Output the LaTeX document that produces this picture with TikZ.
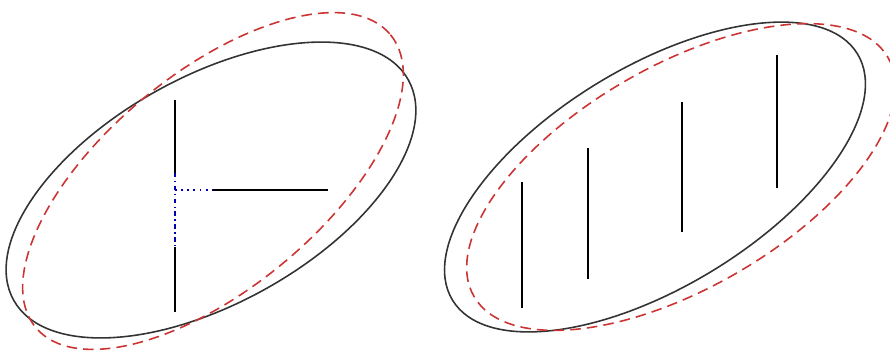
\documentclass[tikz,border=0pt]{standalone}
\usetikzlibrary{calc}

\begin{document}
\begin{tikzpicture}[x=0.02cm, y=-0.02cm,
  outline/.style={draw=black!80, line width=0.9pt},
  shifted/.style={draw=red!75!black!80, line width=0.9pt, dash pattern=on 6pt off 3.5pt},
  bar/.style={draw=black, line width=1.6pt},
  gap/.style={draw=blue!70!black, line width=1.1pt, dash pattern=on 2.5pt off 2pt on 0.8pt off 2pt}]
  \useasboundingbox (0,0) rectangle (890,353);

  % left: section with a T-shaped set of cracks
  \coordinate (cl) at (211,190);
  \coordinate (cr) at (213,181);
  \draw[outline, rotate around={29.2:(cl)}] (cl) ellipse [x radius=226, y radius=113];
  \draw[shifted, rotate around={39.5:(cr)}] (cr) ellipse [x radius=230, y radius=108];
  \coordinate (t1) at (175,100);
  \coordinate (t2) at (175,173);
  \coordinate (t3) at (175,247);
  \coordinate (t4) at (175,312);
  \coordinate (h1) at (175,190);
  \coordinate (h2) at (213,190);
  \coordinate (h3) at (328,190);
  \draw[bar] (t1) -- (t2);
  \draw[bar] (t3) -- (t4);
  \draw[bar] (h2) -- (h3);
  \draw[gap] (t2) -- (t3);
  \draw[gap, dash pattern=on 1pt off 2.5pt] (h1) -- (h2);

  % right: section with four parallel cracks
  \coordinate (dl) at (655,177);
  \coordinate (dr) at (681,177);
  \draw[outline, rotate around={31.3:(dl)}] (dl) ellipse [x radius=237, y radius=110];
  \draw[shifted, rotate around={30:(dr)}] (dr) ellipse [x radius=239, y radius=111];
  \foreach \x/\ya/\yb in {522/182/308, 588/148/279, 682/102/232, 777/55/188}
    \draw[bar] (\x,\ya) -- (\x,\yb);
\end{tikzpicture}
\end{document}
